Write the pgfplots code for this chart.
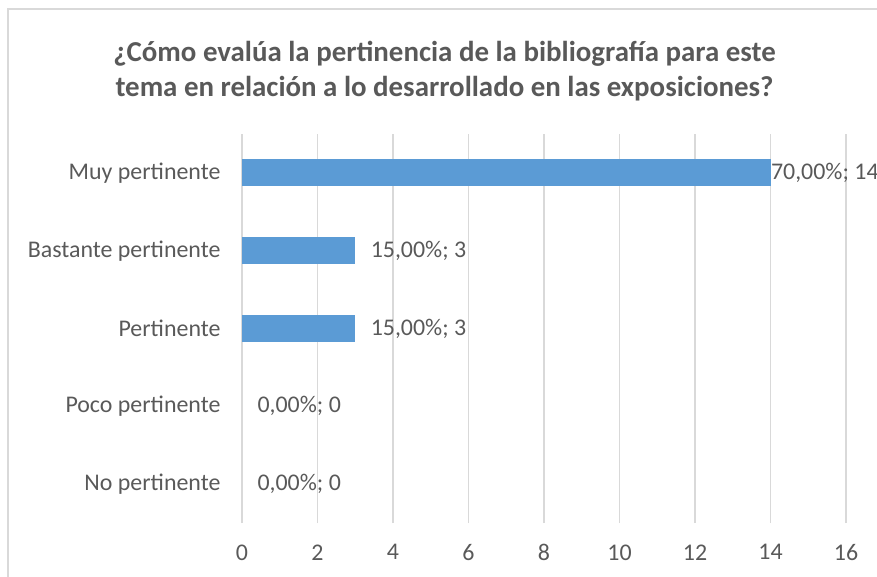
\documentclass[border=0pt]{standalone}
\usepackage{pgfplots}
\pgfplotsset{compat=1.18}
\usepackage{fontspec}
\setmainfont{Carlito}
\definecolor{barblue}{HTML}{5B9BD5}
\definecolor{txt}{HTML}{595959}
\definecolor{gridc}{HTML}{D9D9D9}
\begin{document}
\begin{tikzpicture}
\useasboundingbox (0,0) rectangle (877bp,577bp);
\draw[gridc, line width=1.2bp] (8bp,-5bp) -- (8bp,568bp) -- (900bp,568bp);
\node[font=\bfseries\fontsize{29}{35}\selectfont, text=txt, align=center] at (444.5bp,506bp)
  {¿Cómo evalúa la pertinencia de la bibliografía para este\\tema en relación a lo desarrollado en las exposiciones?};
\begin{axis}[
  at={(242bp,54bp)}, anchor=south west,
  scale only axis, width=604bp, height=389bp,
  xmin=0, xmax=16, ymin=-0.5, ymax=4.5,
  xtick={0,2,...,16}, ytick={0,1,2,3,4},
  yticklabels={No pertinente, Poco pertinente, Pertinente, Bastante pertinente, Muy pertinente},
  xmajorgrids, grid style={gridc, line width=1.2bp},
  axis line style={draw=none}, major tick length=0pt,
  tick label style={font=\fontsize{24}{28}\selectfont, text=txt},
  /pgf/number format/assume math mode=true,
  xticklabel style={yshift=-18bp},
  yticklabel style={xshift=-18bp},
  clip=false,
  every axis plot/.style={xbar, bar shift=0pt, bar width=27bp, fill=barblue, draw=none},
  lbl/.style={nodes near coords style={anchor=west, xshift=#1, font=\fontsize{24}{28}\selectfont, text=txt}},
]
\addplot[lbl=12bp, fill=none, nodes near coords={0,00\%; 0}] coordinates {(0,0)};
\addplot[lbl=12bp, fill=none, nodes near coords={0,00\%; 0}] coordinates {(0,1)};
\addplot[lbl=12bp, nodes near coords={15,00\%; 3}] coordinates {(3,2)};
\addplot[lbl=12bp, nodes near coords={15,00\%; 3}] coordinates {(3,3)};
\addplot[lbl=-3bp, nodes near coords={70,00\%; 14}] coordinates {(14,4)};
\end{axis}
\end{tikzpicture}
\end{document}
